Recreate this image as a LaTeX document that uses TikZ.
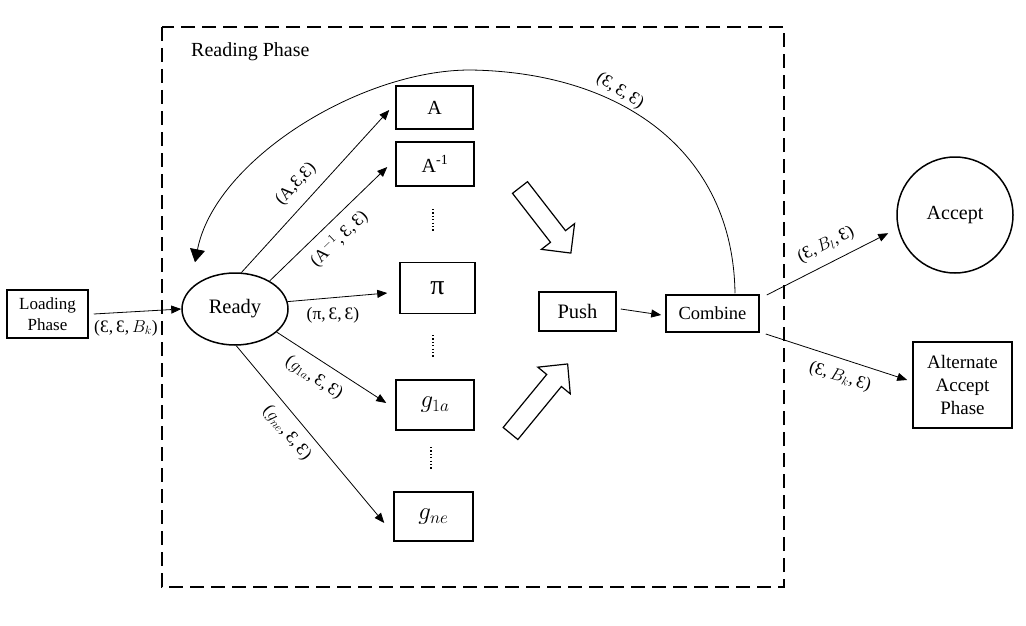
\documentclass[tikz,border=0pt]{standalone}
\usepackage{fontspec}
\setmainfont{Liberation Serif}
\usetikzlibrary{shapes.geometric,arrows.meta,calc}
\newcommand\fsz[2]{\fontsize{#1}{#2}\selectfont}
\begin{document}
\begin{tikzpicture}[x=1pt,y=-1pt,
  box/.style={draw, line width=1.5pt, inner sep=0pt, align=center, font=\fsz{20}{23}},
  conn/.style={line width=0.8pt, -{Triangle[length=10pt,width=8pt]}},
  lbl/.style={font=\fsz{17.5}{19}, inner sep=0.5pt},
  hollow/.style={draw, line width=1.2pt, fill=white},
  dotsline/.style={line width=1.2pt, dash pattern=on 1.2pt off 2.2pt}]
\useasboundingbox[fill=white] (0,0) rectangle (1026,626);
\draw[line width=1.8pt, dash pattern=on 14pt off 7pt] (162,27) rectangle (784,587);
\node[anchor=west, font=\fsz{20}{23}, inner sep=0pt] (rp) at (191,52) {Reading Phase};

% nodes
\node[box, minimum width=81, minimum height=48, font=\fsz{17}{21}] (load) at (47.5,314) {Loading\\Phase};
\node[draw, ellipse, line width=1.5pt, minimum width=106, minimum height=72, inner sep=0pt, font=\fsz{20.5}{23}] (ready) at (235,309) {Ready};
\node[box, minimum width=77, minimum height=43] (a) at (434.5,107.5) {A};
\node[box, minimum width=78, minimum height=44] (ai) at (435,164) {A\textsuperscript{-1}};
\node[box, minimum width=75, minimum height=51, font=\fsz{28}{30}] (pi) at (437.5,288) {π};
\node[box, minimum width=78, minimum height=50, font=\fsz{23}{26}] (g1) at (435,405) {$g_{1a}$};
\node[box, minimum width=79, minimum height=49, font=\fsz{23}{26}] (gn) at (433.5,516.5) {$g_{ne}$};
\node[box, minimum width=77, minimum height=39, font=\fsz{20.5}{23}] (push) at (577.5,311.5) {Push};
\node[box, minimum width=93, minimum height=37, font=\fsz{18.5}{22}] (comb) at (712.5,313.5) {Combine};
\node[draw, circle, line width=1.5pt, minimum size=116, inner sep=0pt, font=\fsz{20}{23}] (acc) at (955,215) {Accept};
\node[box, minimum width=99, minimum height=86, font=\fsz{19}{23}] (alt) at (962.5,385) {Alternate\\Accept\\Phase};

% vertical dots
\draw[dotsline] (433,209) -- (433,231);
\draw[dotsline] (433,335) -- (433,357);
\draw[dotsline] (431,447) -- (431,469);

% connectors
\draw[conn] ($(load.east)+(5,0)$) -- (ready.west);
\draw[conn] (ready.80) -- ($(a.west)+(-6,2.5)$);
\draw[conn] (ready.39) -- ($(ai.west)+(-8,3)$);
\draw[conn] (ready.8) -- ($(pi.west)+(-12,5)$);
\draw[conn] (ready.-29) -- ($(g1.west)+(-9,-2)$);
\draw[conn] (ready.-88) -- ($(gn.west)+(-9,6.5)$);
\draw[conn] ($(push.east)+(4,-2.5)$) -- ($(comb.west)+(-4,1.5)$);
\draw[conn] ($(comb.east)+(7,-18.5)$) -- ($(acc.195)+(-10,3)$);
\draw[conn] ($(comb.east)+(6,20.5)$) -- ($(alt.west)+(-5,-5)$);
\draw[line width=0.8pt, -{Triangle[length=13pt,width=15pt]}]
  ($(comb.north)+(22.5,-1)$) .. controls (733,150) and (620,72) .. (470,70)
  .. controls (360,70) and (215,160) .. ($(ready.north)+(-40,-10)$);

% hollow arrows
\begin{scope}[shift={(520,187.5)}, rotate=-52.2]
\draw[hollow] (0,-9.5) -- (62,-9.5) -- (62,-21) -- (83,0) -- (62,21) -- (62,9.5) -- (0,9.5) -- cycle;
\end{scope}
\begin{scope}[shift={(510.5,433.5)}, rotate=50.6]
\draw[hollow] (0,-9.5) -- (68.6,-9.5) -- (68.6,-21) -- (90,0) -- (68.6,21) -- (68.6,9.5) -- (0,9.5) -- cycle;
\end{scope}

% labels
\node[lbl] (lload) at (126,328) {(Ɛ,\,Ɛ,\,$B_k$)};
\node[lbl, rotate=47] (lA) at (296,184) {(A,Ɛ,Ɛ)};
\node[lbl, rotate=44] (lAi) at (339,239) {(A$^{-1}$,\,Ɛ,\,Ɛ)};
\node[lbl] (lpi) at (333,315) {(π,\,Ɛ,\,Ɛ)};
\node[lbl, rotate=-33] (lg1) at (314,378) {($g_{1a}$,\,Ɛ,\,Ɛ)};
\node[lbl, rotate=-50] (lgn) at (287,433) {($g_{ne}$,\,Ɛ,\,Ɛ)};
\node[lbl, rotate=-33] (larc) at (620,91) {(Ɛ,\,Ɛ,\,Ɛ)};
\node[lbl, rotate=27] (lacc) at (826,245) {(Ɛ,\,$B_l$,\,Ɛ)};
\node[lbl, rotate=-17] (lalt) at (840,377) {(Ɛ,\,$B_k$,\,Ɛ)};
\end{tikzpicture}
\end{document}
